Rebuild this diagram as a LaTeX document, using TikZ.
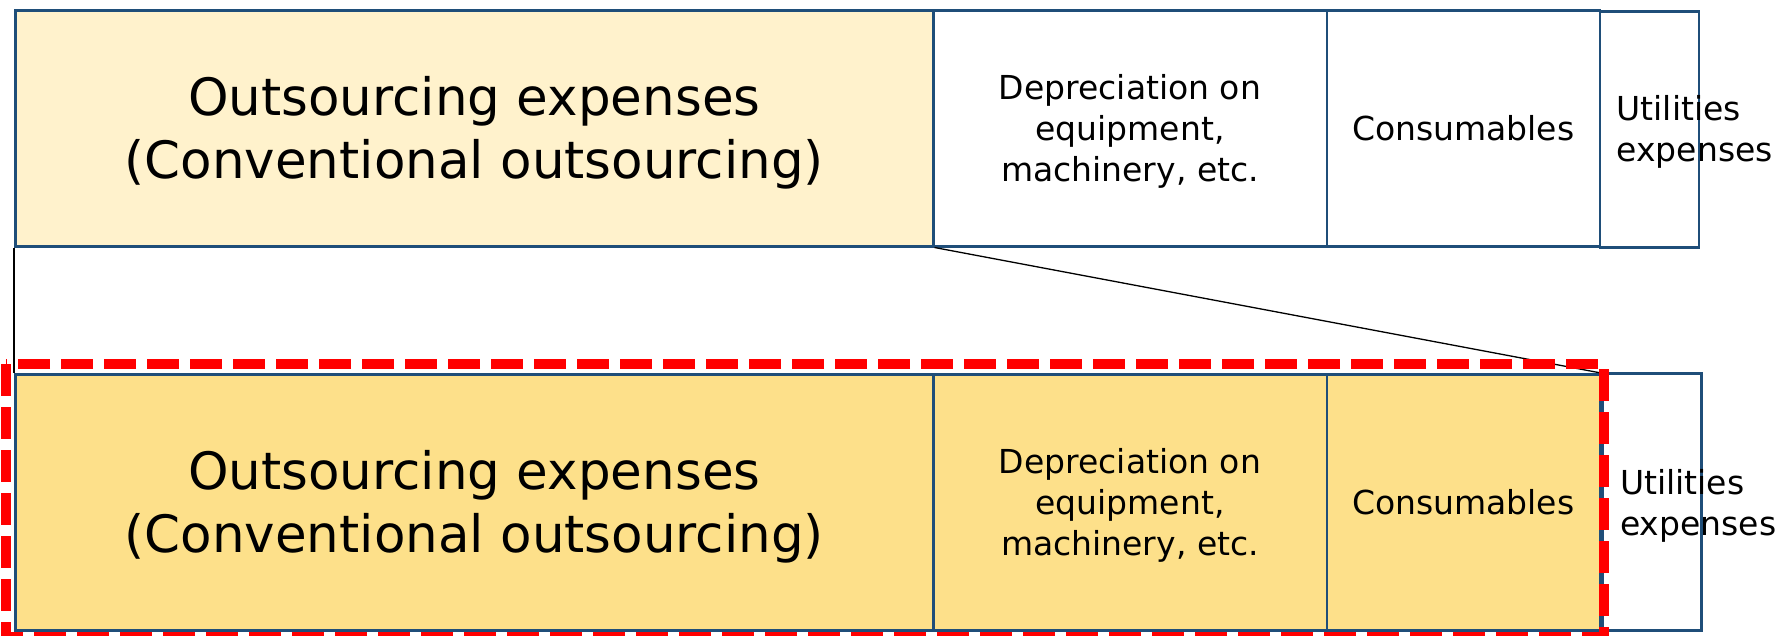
\documentclass[tikz,border=0pt]{standalone}
\usepackage{fontspec}
\setmainfont{DejaVu Sans}
\definecolor{bordc}{HTML}{1F4E79}
\definecolor{lightfill}{HTML}{FFF2CC}
\definecolor{goldfill}{HTML}{FDE08A}
\definecolor{dashred}{HTML}{FF0000}
\newcommand{\mylower}[2]{\raisebox{-#1}[\height][\depth]{\begin{tabular}{@{}c@{}}#2\end{tabular}}}
\newcommand{\mybigtext}{\mylower{6pt}{Outsourcing expenses\\(Conventional outsourcing)}}
\newcommand{\mydeptext}{\mylower{4pt}{Depreciation on\\equipment,\\machinery, etc.}}
\begin{document}
\begin{tikzpicture}[x=1pt,y=-1pt,
  cell/.style={draw=bordc, line width=2.5pt, inner sep=0pt, anchor=north west, align=center,
    font=\fontsize{33}{41}\selectfont},
  bigcell/.style={cell, font=\fontsize{51.5}{63}\selectfont},
  utiltext/.style={anchor=west, align=left, inner sep=0pt, font=\fontsize{33}{41}\selectfont},
  link/.style={draw=black, line width=1.3pt},
  reddash/.style={draw=dashred, line width=10.5pt, dash pattern=on 32pt off 11pt}]
\useasboundingbox (0,0) rectangle (1784,635);
% top row
\node[bigcell, fill=lightfill, minimum width=918pt, minimum height=236pt] (a1) at (14,9) {\mybigtext};
\node[cell, minimum width=393.5pt, minimum height=236pt] (a2) at (932,9) {\mydeptext};
\node[cell, minimum width=273pt, minimum height=236pt] (a3) at (1325.5,9) {Consumables};
\node[cell, minimum width=99pt, minimum height=236pt] (a4) at (1598.5,10) {};
\node[utiltext] (a4t) at ([xshift=18pt,yshift=-3pt]a4.west) {Utilities\\expenses};
% bottom row
\node[bigcell, fill=goldfill, minimum width=918pt, minimum height=256pt] (b1) at (14,373) {\mybigtext};
\node[cell, fill=goldfill, minimum width=393.5pt, minimum height=256pt] (b2) at (932,373) {\mydeptext};
\node[cell, fill=goldfill, minimum width=273pt, minimum height=256pt] (b3) at (1325.5,373) {Consumables};
\node[cell, minimum width=99pt, minimum height=257pt] (b4) at (1601,372) {};
\node[utiltext] (b4t) at ([xshift=19pt,yshift=-4pt]b4.west) {Utilities\\expenses};
% connectors
\draw[link] (a1.south west) -- (b1.north west);
\draw[link] (a1.south east) -- (b3.north east);
% red dashed frame
\coordinate (r1) at (6,364);
\coordinate (r2) at (1604,637);
\draw[reddash] (r1) rectangle (r2);
\end{tikzpicture}
\end{document}
